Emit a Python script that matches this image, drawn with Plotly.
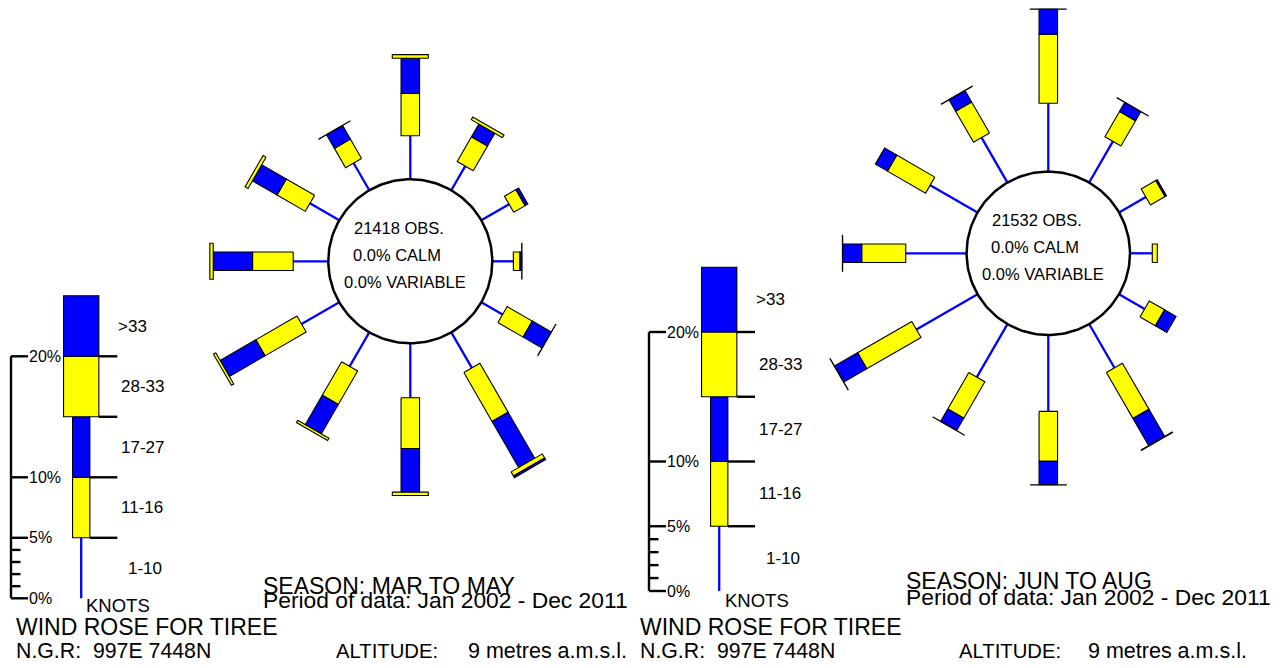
import math
import plotly.graph_objects as go

# ---------------- data ----------------
DIRECTIONS = [0, 30, 60, 90, 120, 150, 180, 210, 240, 270, 300, 330]
SPEED_BANDS = ["1-10", "11-16", "17-27", "28-33", ">33"]

# Spring (MAR TO MAY), percent of observations per direction and speed band (knots)
SPRING_1_10 = [3.6, 2.3, 2.65, 1.74, 2.03, 3.4, 4.5, 3.25, 3.6, 2.9, 2.8, 2.6]
SPRING_11_16 = [3.5, 2.36, 1.1, 0.55, 2.4, 4.66, 4.2, 3.2, 3.93, 3.36, 2.7, 1.84]
SPRING_17_27 = [2.9, 1.22, 0.25, 0.14, 1.8, 4.4, 3.6, 2.8, 3.4, 3.25, 2.35, 1.3]
SPRING_28_33 = [0.3, 0.25, 0.0, 0.02, 0.02, 0.4, 0.28, 0.22, 0.22, 0.28, 0.28, 0.02]
SPRING_GT33 = [0.0, 0.0, 0.0, 0.0, 0.0, 0.15, 0.0, 0.0, 0.0, 0.0, 0.0, 0.0]

# Summer (JUN TO AUG)
SUMMER_1_10 = [5.28, 3.67, 2.39, 1.72, 2.28, 3.9, 5.9, 4.73, 5.45, 4.7, 4.22, 4.0]
SUMMER_11_16 = [5.33, 2.26, 1.3, 0.39, 1.37, 4.1, 3.86, 3.25, 4.84, 3.4, 3.4, 2.77]
SUMMER_17_27 = [1.93, 0.8, 0.13, 0.0, 1.02, 2.42, 1.8, 1.1, 2.05, 1.47, 1.08, 1.02]
SUMMER_28_33 = [0.02, 0.02, 0.0, 0.0, 0.0, 0.05, 0.02, 0.02, 0.02, 0.02, 0.0, 0.02]
SUMMER_GT33 = [0.0] * 12

KEY_BAND_EDGES = [0, 5, 10, 15, 20, 25]
KEY_MAJOR_TICKS = [0, 5, 10, 20]
KEY_MAJOR_LABELS = ["0%", "5%", "10%", "20%"]
KEY_MINOR_TICKS = [1, 2, 3, 4]

STATION = "TIREE"
NGR = "997E 7448N"
ALTITUDE = "9 metres a.m.s.l."
PERIOD = "Jan 2002 - Dec 2011"

SEASONS = ["MAR TO MAY", "JUN TO AUG"]
OBS = [21418, 21532]
CALM = [0.0, 0.0]
VARIABLE = [0.0, 0.0]

# ---------------- layout constants ----------------
W, H = 1285, 668
BLUE = "#0000FF"
YELLOW = "#FFFF00"
FONT = "Liberation Sans, Arial, sans-serif"

panels = [
    dict(bands=[SPRING_1_10, SPRING_11_16, SPRING_17_27, SPRING_28_33, SPRING_GT33],
         cx=410.3, cy=261.3, r=82.0, scale=12.1,
         key_axis_x=11, key_x=81.2, key_y0=598.3, sep_end=117.3,
         knots=(86, 605), season_xy=(262.5, 586), period_xy=(262.5, 600),
         title_x=16, alt_x=336, altv_x=468),
    dict(bands=[SUMMER_1_10, SUMMER_11_16, SUMMER_17_27, SUMMER_28_33, SUMMER_GT33],
         cx=1048.3, cy=253.3, r=81.7, scale=12.95,
         key_axis_x=649, key_x=719.2, key_y0=591.0, sep_end=755,
         knots=(725, 600), season_xy=(906, 581), period_xy=(906, 596.5),
         title_x=640, alt_x=959, altv_x=1088),
]

ROSE_NARROW, ROSE_WIDE = 18.5, 36.0
KEY_NARROW, KEY_WIDE = 17.3, 35.3
LABEL_DX = [11, 4, 4, 4, 1]  # offsets of band labels (1-10 ... >33)


def rect(cx, cy, theta, ra, rb, w):
    t = math.radians(theta)
    ux, uy = math.sin(t), -math.cos(t)
    vx, vy = math.cos(t), math.sin(t)
    hw = w / 2.0
    pts = [(ra, hw), (rb, hw), (rb, -hw), (ra, -hw), (ra, hw)]
    xs = [cx + ux * r + vx * s for r, s in pts]
    ys = [cy + uy * r + vy * s for r, s in pts]
    return xs, ys


def seg(cx, cy, theta, ra, rb):
    t = math.radians(theta)
    ux, uy = math.sin(t), -math.cos(t)
    return [cx + ux * ra, cx + ux * rb], [cy + uy * ra, cy + uy * rb]


blue_lines = ([], [])
polys = {k: ([], []) for k in ["yn", "bn", "yw", "bw"]}
black = ([], [])
circles = []
annotations = []


def add(store, xs, ys):
    store[0].extend(xs + [None])
    store[1].extend(ys + [None])


def ann(x, y, text, size, anchor="left"):
    annotations.append(dict(x=x, y=y, xref="x", yref="y", text=text, showarrow=False,
                            xanchor=anchor, yanchor="middle", borderpad=0, borderwidth=0,
                            font=dict(family=FONT, size=size, color="black")))


for i, p in enumerate(panels):
    cx, cy, r0, s = p["cx"], p["cy"], p["r"], p["scale"]
    b = p["bands"]
    # rose arms
    for k, d in enumerate(DIRECTIONS):
        vals = [b[j][k] for j in range(5)]
        edges = [r0]
        for v in vals:
            edges.append(edges[-1] + v * s)
        if vals[0] > 0:
            add(blue_lines, *seg(cx, cy, d, edges[0], edges[1]))
        keys = ["yn", "bn", "yw", "bw"]
        widths = [ROSE_NARROW, ROSE_NARROW, ROSE_WIDE, ROSE_WIDE]
        for j in range(1, 5):
            if vals[j] > 0:
                add(polys[keys[j - 1]], *rect(cx, cy, d, edges[j], edges[j + 1], widths[j - 1]))
    # circle
    n = 180
    circles.append(([cx + r0 * math.cos(2 * math.pi * a / n) for a in range(n + 1)],
                    [cy + r0 * math.sin(2 * math.pi * a / n) for a in range(n + 1)]))
    ann(cx - 11.5, cy - 33, f"{OBS[i]} OBS.", 16.5, "center")
    ann(cx - 13, cy - 6, f"{CALM[i]:.1f}% CALM", 16.5, "center")
    ann(cx - 5, cy + 21, f"{VARIABLE[i]:.1f}% VARIABLE", 16.5, "center")

    # key
    kx, ky0 = p["key_x"], p["key_y0"]
    e = [ky0 - v * s for v in KEY_BAND_EDGES]
    add(blue_lines, [kx, kx], [e[0], e[1]])
    kkeys = ["yn", "bn", "yw", "bw"]
    kw = [KEY_NARROW, KEY_NARROW, KEY_WIDE, KEY_WIDE]
    for j in range(1, 5):
        add(polys[kkeys[j - 1]], *rect(kx, ky0, 0, KEY_BAND_EDGES[j] * s, KEY_BAND_EDGES[j + 1] * s, kw[j - 1]))
    for j in range(1, 5):
        x_start = kx + (KEY_NARROW if j <= 2 else KEY_WIDE) / 2
        add(black, [x_start, p["sep_end"]], [e[j], e[j]])
    for j, lab in enumerate(SPEED_BANDS):
        ymid = (e[j] + e[j + 1]) / 2
        ann(p["sep_end"] + LABEL_DX[j], ymid, lab, 17)
    # scale axis
    ax = p["key_axis_x"]
    add(black, [ax, ax], [ky0, ky0 - max(KEY_MAJOR_TICKS) * s])
    for t, lab in zip(KEY_MAJOR_TICKS, KEY_MAJOR_LABELS):
        y = ky0 - t * s
        add(black, [ax, ax + 17], [y, y])
        ann(ax + 18, y, lab, 16)
    for t in KEY_MINOR_TICKS:
        y = ky0 - t * s
        add(black, [ax, ax + 9.5], [y, y])

    # texts
    ann(p["knots"][0], p["knots"][1], "KNOTS", 18.5)
    ann(p["season_xy"][0], p["season_xy"][1], f"SEASON: {SEASONS[i]}", 23)
    ann(p["period_xy"][0], p["period_xy"][1], f"Period of data: {PERIOD}", 22.8)
    ann(p["title_x"], 626.5, f"WIND ROSE FOR {STATION}", 23)
    ann(p["title_x"], 650.5, f"N.G.R:\u00a0\u00a0{NGR}", 21.3)
    ann(p["alt_x"], 651, "ALTITUDE:", 20.3)
    ann(p["altv_x"], 651, ALTITUDE, 21.5)

fig = go.Figure()
fig.add_trace(go.Scatter(x=blue_lines[0], y=blue_lines[1], mode="lines",
                         line=dict(color=BLUE, width=2.3), hoverinfo="skip"))
fig.add_trace(go.Scatter(x=black[0], y=black[1], mode="lines",
                         line=dict(color="black", width=2.4), hoverinfo="skip"))
for cxs, cys in circles:
    fig.add_trace(go.Scatter(x=cxs, y=cys, mode="lines", line=dict(color="black", width=2.5),
                             hoverinfo="skip"))
for key, col in [("yn", YELLOW), ("bn", BLUE), ("yw", YELLOW), ("bw", BLUE)]:
    xs, ys = polys[key]
    fig.add_trace(go.Scatter(x=xs, y=ys, mode="lines", fill="toself", fillcolor=col,
                             line=dict(color="black", width=1.1), hoverinfo="skip"))

fig.update_layout(
    width=W, height=H, margin=dict(l=0, r=0, t=0, b=0),
    paper_bgcolor="white", plot_bgcolor="white", showlegend=False,
    xaxis=dict(range=[0, W], visible=False, fixedrange=True),
    yaxis=dict(range=[H, 0], visible=False, fixedrange=True),
    annotations=annotations,
)
fig.write_html("out.html", config={"displayModeBar": False},
               post_script="document.body.style.margin='0';document.body.style.overflow='hidden';")
